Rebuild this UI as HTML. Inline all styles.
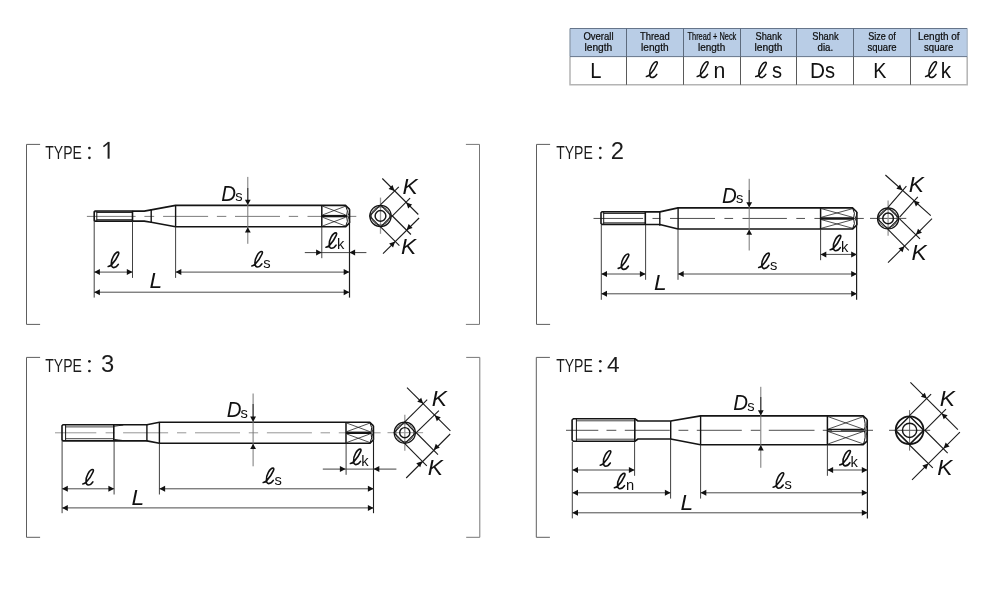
<!DOCTYPE html>
<html><head><meta charset="utf-8"><title>Tap dimensions</title>
<style>html,body{margin:0;padding:0;background:#fff}body{width:1000px;height:600px;overflow:hidden;position:relative}svg{position:absolute;left:0;top:0;display:block;will-change:transform;transform:translateZ(0)}text{font-family:"Liberation Sans",sans-serif}</style></head><body>
<svg width="1000" height="600" viewBox="0 0 1000 600">
<rect width="1000" height="600" fill="#fff"/>
<g id="table">
<rect x="570" y="28.5" width="397.2" height="28.1" fill="#b9cde6"/>
<path d="M570,56.6 V84.8 H967.2 V56.6" fill="none" stroke="#b4b4b4" stroke-width="1.5"/>
<line x1="570" y1="28.5" x2="570" y2="56.6" stroke="#8896a6" stroke-width="1.2"/>
<line x1="967.2" y1="28.5" x2="967.2" y2="56.6" stroke="#a9b6c6" stroke-width="1.2"/>
<line x1="570" y1="28.5" x2="967.2" y2="28.5" stroke="#66758a" stroke-width="1"/>
<line x1="570" y1="56.6" x2="967.2" y2="56.6" stroke="#66758a" stroke-width="1"/>
<line x1="626.5" y1="28.5" x2="626.5" y2="56.6" stroke="#5d6b7e" stroke-width="1"/>
<line x1="626.5" y1="56.6" x2="626.5" y2="84.8" stroke="#5a5a5a" stroke-width="1"/>
<line x1="683.5" y1="28.5" x2="683.5" y2="56.6" stroke="#5d6b7e" stroke-width="1"/>
<line x1="683.5" y1="56.6" x2="683.5" y2="84.8" stroke="#5a5a5a" stroke-width="1"/>
<line x1="740.5" y1="28.5" x2="740.5" y2="56.6" stroke="#5d6b7e" stroke-width="1"/>
<line x1="740.5" y1="56.6" x2="740.5" y2="84.8" stroke="#5a5a5a" stroke-width="1"/>
<line x1="796.5" y1="28.5" x2="796.5" y2="56.6" stroke="#5d6b7e" stroke-width="1"/>
<line x1="796.5" y1="56.6" x2="796.5" y2="84.8" stroke="#5a5a5a" stroke-width="1"/>
<line x1="853.5" y1="28.5" x2="853.5" y2="56.6" stroke="#5d6b7e" stroke-width="1"/>
<line x1="853.5" y1="56.6" x2="853.5" y2="84.8" stroke="#5a5a5a" stroke-width="1"/>
<line x1="910.5" y1="28.5" x2="910.5" y2="56.6" stroke="#5d6b7e" stroke-width="1"/>
<line x1="910.5" y1="56.6" x2="910.5" y2="84.8" stroke="#5a5a5a" stroke-width="1"/>
<text x="583.4" y="39.6" font-size="10.6" fill="#0c0c0c" stroke="#0c0c0c" stroke-width="0.22" textLength="30.2" lengthAdjust="spacingAndGlyphs">Overall</text>
<text x="584.5" y="50.8" font-size="10.6" fill="#0c0c0c" stroke="#0c0c0c" stroke-width="0.22" textLength="27.8" lengthAdjust="spacingAndGlyphs">length</text>
<text x="640" y="39.6" font-size="10.6" fill="#0c0c0c" stroke="#0c0c0c" stroke-width="0.22" textLength="29.8" lengthAdjust="spacingAndGlyphs">Thread</text>
<text x="641.1" y="50.8" font-size="10.6" fill="#0c0c0c" stroke="#0c0c0c" stroke-width="0.22" textLength="27.6" lengthAdjust="spacingAndGlyphs">length</text>
<text x="687.5" y="39.6" font-size="10.6" fill="#0c0c0c" stroke="#0c0c0c" stroke-width="0.22" textLength="48.8" lengthAdjust="spacingAndGlyphs">Thread + Neck</text>
<text x="698" y="50.8" font-size="10.6" fill="#0c0c0c" stroke="#0c0c0c" stroke-width="0.22" textLength="27.2" lengthAdjust="spacingAndGlyphs">length</text>
<text x="755.5" y="39.6" font-size="10.6" fill="#0c0c0c" stroke="#0c0c0c" stroke-width="0.22" textLength="26.3" lengthAdjust="spacingAndGlyphs">Shank</text>
<text x="754.5" y="50.8" font-size="10.6" fill="#0c0c0c" stroke="#0c0c0c" stroke-width="0.22" textLength="28" lengthAdjust="spacingAndGlyphs">length</text>
<text x="812.2" y="39.6" font-size="10.6" fill="#0c0c0c" stroke="#0c0c0c" stroke-width="0.22" textLength="26.4" lengthAdjust="spacingAndGlyphs">Shank</text>
<text x="817.5" y="50.8" font-size="10.6" fill="#0c0c0c" stroke="#0c0c0c" stroke-width="0.22" textLength="15.6" lengthAdjust="spacingAndGlyphs">dia.</text>
<text x="868.2" y="39.6" font-size="10.6" fill="#0c0c0c" stroke="#0c0c0c" stroke-width="0.22" textLength="27.6" lengthAdjust="spacingAndGlyphs">Size of</text>
<text x="867.5" y="50.8" font-size="10.6" fill="#0c0c0c" stroke="#0c0c0c" stroke-width="0.22" textLength="29.1" lengthAdjust="spacingAndGlyphs">square</text>
<text x="918" y="39.6" font-size="10.6" fill="#0c0c0c" stroke="#0c0c0c" stroke-width="0.22" textLength="41.6" lengthAdjust="spacingAndGlyphs">Length of</text>
<text x="924.1" y="50.8" font-size="10.6" fill="#0c0c0c" stroke="#0c0c0c" stroke-width="0.22" textLength="29.2" lengthAdjust="spacingAndGlyphs">square</text>
<text transform="translate(590.15,77.8) scale(0.9,1)" font-size="22.4" fill="#111">L</text>
<path transform="translate(646.4,77.6) scale(1.06)" d="M0,-1 C1.5,-1.2 2.6,-2 3.6,-3.1 C6,-5.6 8.6,-9.6 9.9,-12.6 C10.6,-14.1 10.4,-15 9.4,-15 C8.2,-15 6.4,-13.4 5,-10.9 C3.6,-8.4 2.8,-5.4 3.1,-3 C3.3,-1 4.1,0 5.3,0 C7,0 8.6,-1.2 9.8,-3.1" fill="none" stroke="#111" stroke-width="1.42" stroke-linecap="round" stroke-linejoin="round"/>
<path transform="translate(697.2,77.6) scale(1.06)" d="M0,-1 C1.5,-1.2 2.6,-2 3.6,-3.1 C6,-5.6 8.6,-9.6 9.9,-12.6 C10.6,-14.1 10.4,-15 9.4,-15 C8.2,-15 6.4,-13.4 5,-10.9 C3.6,-8.4 2.8,-5.4 3.1,-3 C3.3,-1 4.1,0 5.3,0 C7,0 8.6,-1.2 9.8,-3.1" fill="none" stroke="#111" stroke-width="1.42" stroke-linecap="round" stroke-linejoin="round"/>
<text transform="translate(713.59,77.8) scale(0.95,1)" font-size="22.4" fill="#111">n</text>
<path transform="translate(755.7,77.6) scale(1.03)" d="M0,-1 C1.5,-1.2 2.6,-2 3.6,-3.1 C6,-5.6 8.6,-9.6 9.9,-12.6 C10.6,-14.1 10.4,-15 9.4,-15 C8.2,-15 6.4,-13.4 5,-10.9 C3.6,-8.4 2.8,-5.4 3.1,-3 C3.3,-1 4.1,0 5.3,0 C7,0 8.6,-1.2 9.8,-3.1" fill="none" stroke="#111" stroke-width="1.46" stroke-linecap="round" stroke-linejoin="round"/>
<text transform="translate(772.04,77.8) scale(0.9,1)" font-size="22.4" fill="#111">s</text>
<text transform="translate(809.89,77.8) scale(0.93,1)" font-size="22.4" fill="#111">D</text>
<text transform="translate(825.04,77.8) scale(0.9,1)" font-size="22.4" fill="#111">s</text>
<text transform="translate(873.18,77.8) scale(0.88,1)" font-size="22.4" fill="#111">K</text>
<path transform="translate(925.6,77.6) scale(1.06)" d="M0,-1 C1.5,-1.2 2.6,-2 3.6,-3.1 C6,-5.6 8.6,-9.6 9.9,-12.6 C10.6,-14.1 10.4,-15 9.4,-15 C8.2,-15 6.4,-13.4 5,-10.9 C3.6,-8.4 2.8,-5.4 3.1,-3 C3.3,-1 4.1,0 5.3,0 C7,0 8.6,-1.2 9.8,-3.1" fill="none" stroke="#111" stroke-width="1.42" stroke-linecap="round" stroke-linejoin="round"/>
<text transform="translate(940.81,77.8) scale(0.92,1)" font-size="22.4" fill="#111">k</text>
</g>
<path d="M40.1,144.4 H26.5 V324.4 H40.1" fill="none" stroke="#5e5e5e" stroke-width="1"/>
<path d="M465.9,144.4 H479.5 V324.4 H465.9" fill="none" stroke="#777" stroke-width="1"/>
<path d="M550.1,144.4 H536.5 V324.4 H550.1" fill="none" stroke="#5e5e5e" stroke-width="1"/>
<path d="M40.1,357.4 H26.5 V537.3 H40.1" fill="none" stroke="#5e5e5e" stroke-width="1"/>
<path d="M466.2,357.4 H479.8 V537.3 H466.2" fill="none" stroke="#777" stroke-width="1"/>
<path d="M549.9,357.4 H536.3 V537.3 H549.9" fill="none" stroke="#5e5e5e" stroke-width="1"/>
<text transform="translate(45.29,158.7) scale(0.77,1)" font-size="18.2" fill="#1c1c1c">TYPE</text>
<circle cx="89.4" cy="148.1" r="1.35" fill="#1c1c1c"/>
<circle cx="89.4" cy="157.8" r="1.35" fill="#1c1c1c"/>
<path d="M103.4,146.7 L108.1,142.8" fill="none" stroke="#1c1c1c" stroke-width="1.5"/>
<path d="M108.6,141.9 V158.7" fill="none" stroke="#1c1c1c" stroke-width="2.0"/>
<text transform="translate(556.19,158.7) scale(0.77,1)" font-size="18.2" fill="#1c1c1c">TYPE</text>
<circle cx="600.3" cy="148.1" r="1.35" fill="#1c1c1c"/>
<circle cx="600.3" cy="157.8" r="1.35" fill="#1c1c1c"/>
<text x="610.7" y="158.7" font-size="23.8" fill="#1c1c1c">2</text>
<text transform="translate(45.29,371.9) scale(0.77,1)" font-size="18.2" fill="#1c1c1c">TYPE</text>
<circle cx="89.4" cy="361.3" r="1.35" fill="#1c1c1c"/>
<circle cx="89.4" cy="371" r="1.35" fill="#1c1c1c"/>
<text x="100.99" y="371.9" font-size="23.8" fill="#1c1c1c">3</text>
<text transform="translate(556.19,371.9) scale(0.77,1)" font-size="18.2" fill="#1c1c1c">TYPE</text>
<circle cx="600.3" cy="361.3" r="1.35" fill="#1c1c1c"/>
<circle cx="600.3" cy="371" r="1.35" fill="#1c1c1c"/>
<text x="606.88" y="371.9" font-size="22.6" fill="#1c1c1c">4</text>
<g id="type1">
<line x1="86.9" y1="216.4" x2="135.6" y2="216.4" stroke="#6e6e6e" stroke-width="0.9"/>
<line x1="144.4" y1="216.4" x2="154.2" y2="216.4" stroke="#6e6e6e" stroke-width="0.9"/>
<line x1="163.1" y1="216.4" x2="208.1" y2="216.4" stroke="#6e6e6e" stroke-width="0.9"/>
<line x1="216.9" y1="216.4" x2="226.3" y2="216.4" stroke="#6e6e6e" stroke-width="0.9"/>
<line x1="235" y1="216.4" x2="280" y2="216.4" stroke="#6e6e6e" stroke-width="0.9"/>
<line x1="288.8" y1="216.4" x2="298.1" y2="216.4" stroke="#6e6e6e" stroke-width="0.9"/>
<line x1="307.5" y1="216.4" x2="356.3" y2="216.4" stroke="#6e6e6e" stroke-width="0.9"/>
<path d="M94.2,211.8 L95,211 L132.5,211 L132.5,221.2 L95,221.2 L94.2,220.4 Z" fill="none" stroke="#141414" stroke-width="1.6" stroke-linejoin="round"/>
<line x1="96.8" y1="211" x2="96.8" y2="221.2" stroke="#141414" stroke-width="1"/>
<line x1="96.8" y1="212.5" x2="132.5" y2="212.5" stroke="#141414" stroke-width="0.9"/>
<line x1="96.8" y1="219.7" x2="132.5" y2="219.7" stroke="#141414" stroke-width="0.9"/>
<rect x="95" y="211" width="37.5" height="1.5" fill="#222" opacity="0.55"/>
<rect x="95" y="219.7" width="37.5" height="1.5" fill="#222" opacity="0.55"/>
<path d="M132.5,211 L132.5,211.1 L144.2,211.1 L151.2,209.9 L175.6,205.4 L345.5,205.4 L349.6,209.3" fill="none" stroke="#141414" stroke-width="1.6" stroke-linejoin="round"/>
<path d="M132.5,221.2 L132.5,221.1 L144.2,221.1 L151.2,222.3 L175.6,226.8 L345.5,226.8 L349.6,222.9" fill="none" stroke="#141414" stroke-width="1.6" stroke-linejoin="round"/>
<line x1="151.2" y1="209.3" x2="151.2" y2="222.9" stroke="#141414" stroke-width="1.4"/>
<line x1="175.6" y1="205.4" x2="175.6" y2="226.8" stroke="#141414" stroke-width="1.4"/>
<line x1="321.8" y1="205.4" x2="321.8" y2="226.8" stroke="#141414" stroke-width="1.5"/>
<line x1="349.6" y1="209.3" x2="349.6" y2="222.9" stroke="#141414" stroke-width="1.5"/>
<line x1="321.8" y1="216.1" x2="347" y2="216.1" stroke="#141414" stroke-width="2.4"/>
<path d="M345.5,205.4 Q348.7,211.28 346.7,215.5" fill="none" stroke="#141414" stroke-width="1"/>
<path d="M349.6,209.3 Q349.4,213.38 348,215.7" fill="none" stroke="#141414" stroke-width="0.9"/>
<path d="M345.5,226.8 Q348.7,220.91 346.7,216.7" fill="none" stroke="#141414" stroke-width="1"/>
<path d="M349.6,222.9 Q349.4,218.82 348,216.5" fill="none" stroke="#141414" stroke-width="0.9"/>
<line x1="322.6" y1="214.9" x2="345.5" y2="206.2" stroke="#141414" stroke-width="0.75"/>
<line x1="322.6" y1="206.2" x2="345.5" y2="214.9" stroke="#141414" stroke-width="0.75"/>
<line x1="322.6" y1="217.3" x2="345.5" y2="226" stroke="#141414" stroke-width="0.75"/>
<line x1="322.6" y1="226" x2="345.5" y2="217.3" stroke="#141414" stroke-width="0.75"/>
<line x1="94.2" y1="221" x2="94.2" y2="297.6" stroke="#2b2b2b" stroke-width="0.9"/>
<line x1="132.5" y1="221" x2="132.5" y2="277.9" stroke="#2b2b2b" stroke-width="0.9"/>
<line x1="175.6" y1="226.5" x2="175.6" y2="277.9" stroke="#2b2b2b" stroke-width="0.9"/>
<line x1="321.8" y1="226.5" x2="321.8" y2="258.2" stroke="#2b2b2b" stroke-width="0.9"/>
<line x1="349.5" y1="221" x2="349.5" y2="297.6" stroke="#1e1e1e" stroke-width="1.2"/>
<line x1="94.2" y1="272.1" x2="132.5" y2="272.1" stroke="#4a4a4a" stroke-width="1"/>
<polygon points="94.2,272.1 99.9,269.1 99.9,275.1" fill="#111"/>
<polygon points="132.5,272.1 126.8,275.1 126.8,269.1" fill="#111"/>
<line x1="175.6" y1="272.1" x2="349.4" y2="272.1" stroke="#4a4a4a" stroke-width="1"/>
<polygon points="175.6,272.1 181.3,269.1 181.3,275.1" fill="#111"/>
<polygon points="349.4,272.1 343.7,275.1 343.7,269.1" fill="#111"/>
<line x1="94.2" y1="292.2" x2="349.4" y2="292.2" stroke="#4a4a4a" stroke-width="1"/>
<polygon points="94.2,292.2 99.9,289.2 99.9,295.2" fill="#111"/>
<polygon points="349.4,292.2 343.7,295.2 343.7,289.2" fill="#111"/>
<line x1="321.8" y1="252.6" x2="349.4" y2="252.6" stroke="#4a4a4a" stroke-width="1"/>
<line x1="304.8" y1="252.6" x2="321.8" y2="252.6" stroke="#2b2b2b" stroke-width="0.9"/>
<line x1="349.4" y1="252.6" x2="366.4" y2="252.6" stroke="#2b2b2b" stroke-width="0.9"/>
<polygon points="321.8,252.6 316.1,255.6 316.1,249.6" fill="#111"/>
<polygon points="349.4,252.6 355.1,249.6 355.1,255.6" fill="#111"/>
<line x1="247.8" y1="176.9" x2="247.8" y2="243.8" stroke="#777" stroke-width="1"/>
<line x1="247.8" y1="188" x2="247.8" y2="201.4" stroke="#2b2b2b" stroke-width="1"/>
<polygon points="247.8,205 244.9,199.7 250.7,199.7" fill="#111"/>
<polygon points="247.8,227.2 250.7,232.5 244.9,232.5" fill="#111"/>
<path transform="translate(108.2,267.6) scale(1.03)" d="M0,-1 C1.5,-1.2 2.6,-2 3.6,-3.1 C6,-5.6 8.6,-9.6 9.9,-12.6 C10.6,-14.1 10.4,-15 9.4,-15 C8.2,-15 6.4,-13.4 5,-10.9 C3.6,-8.4 2.8,-5.4 3.1,-3 C3.3,-1 4.1,0 5.3,0 C7,0 8.6,-1.2 9.8,-3.1" fill="none" stroke="#111" stroke-width="1.55" stroke-linecap="round" stroke-linejoin="round"/>
<text x="149.5" y="288.2" font-size="22.7" font-style="italic" fill="#111">L</text>
<path transform="translate(251.8,267) scale(1.03)" d="M0,-1 C1.5,-1.2 2.6,-2 3.6,-3.1 C6,-5.6 8.6,-9.6 9.9,-12.6 C10.6,-14.1 10.4,-15 9.4,-15 C8.2,-15 6.4,-13.4 5,-10.9 C3.6,-8.4 2.8,-5.4 3.1,-3 C3.3,-1 4.1,0 5.3,0 C7,0 8.6,-1.2 9.8,-3.1" fill="none" stroke="#111" stroke-width="1.55" stroke-linecap="round" stroke-linejoin="round"/>
<text x="263.19" y="267.9" font-size="14.7" fill="#111">s</text>
<path transform="translate(326,248.3) scale(1.03)" d="M0,-1 C1.5,-1.2 2.6,-2 3.6,-3.1 C6,-5.6 8.6,-9.6 9.9,-12.6 C10.6,-14.1 10.4,-15 9.4,-15 C8.2,-15 6.4,-13.4 5,-10.9 C3.6,-8.4 2.8,-5.4 3.1,-3 C3.3,-1 4.1,0 5.3,0 C7,0 8.6,-1.2 9.8,-3.1" fill="none" stroke="#111" stroke-width="1.55" stroke-linecap="round" stroke-linejoin="round"/>
<text x="336.91" y="249.2" font-size="14.7" fill="#111">k</text>
<text transform="translate(221.37,200.6) scale(0.9,1)" font-size="22.7" font-style="italic" fill="#111">D</text>
<text x="235.19" y="201" font-size="14.7" fill="#111">s</text>
<line x1="380.5" y1="197.6" x2="380.5" y2="233.8" stroke="#999" stroke-width="1.3"/>
<circle cx="380.5" cy="215.95" r="10.68" fill="none" stroke="#141414" stroke-width="1.25"/>
<circle cx="380.5" cy="215.95" r="9.15" fill="none" stroke="#141414" stroke-width="0.7"/>
<rect x="372.72" y="208.17" width="15.56" height="15.56" rx="0.6" transform="rotate(45 380.5 215.95)" fill="none" stroke="#141414" stroke-width="1.1"/>
<circle cx="380.5" cy="215.95" r="5.38" fill="none" stroke="#141414" stroke-width="1.45"/>
<line x1="380.6" y1="204.7" x2="398.8" y2="186.9" stroke="#1a1a1a" stroke-width="1.1"/>
<line x1="391.9" y1="216.3" x2="410.1" y2="198.1" stroke="#1a1a1a" stroke-width="1.1"/>
<line x1="382.3" y1="178.5" x2="418.3" y2="214.5" stroke="#1a1a1a" stroke-width="1.1"/>
<polygon points="394.5,190.9 388.56,188.92 392.52,184.96" fill="#111"/>
<polygon points="406.2,202.6 412.14,204.58 408.18,208.54" fill="#111"/>
<text x="402.6" y="193.6" font-size="22.7" font-style="italic" fill="#111">K</text>
<line x1="380.6" y1="226.9" x2="399.4" y2="245.6" stroke="#1a1a1a" stroke-width="1.1"/>
<line x1="391.9" y1="215.5" x2="410.9" y2="234.5" stroke="#1a1a1a" stroke-width="1.1"/>
<line x1="383" y1="253.6" x2="419.1" y2="218" stroke="#1a1a1a" stroke-width="1.1"/>
<polygon points="395.1,241.5 393.08,247.43 389.15,243.44" fill="#111"/>
<polygon points="406.6,229.9 408.62,223.97 412.55,227.96" fill="#111"/>
<text x="400.9" y="254.2" font-size="22.7" font-style="italic" fill="#111">K</text>
</g>
<g id="type2">
<line x1="593.5" y1="218.45" x2="643.1" y2="218.45" stroke="#3c3c3c" stroke-width="0.9"/>
<line x1="652.5" y1="218.45" x2="660.4" y2="218.45" stroke="#3c3c3c" stroke-width="0.9"/>
<line x1="670" y1="218.45" x2="715" y2="218.45" stroke="#3c3c3c" stroke-width="0.9"/>
<line x1="724.4" y1="218.45" x2="733.1" y2="218.45" stroke="#3c3c3c" stroke-width="0.9"/>
<line x1="742.5" y1="218.45" x2="786.9" y2="218.45" stroke="#3c3c3c" stroke-width="0.9"/>
<line x1="796.3" y1="218.45" x2="805" y2="218.45" stroke="#3c3c3c" stroke-width="0.9"/>
<line x1="814.4" y1="218.45" x2="863.8" y2="218.45" stroke="#3c3c3c" stroke-width="0.9"/>
<path d="M601,212.75 L602,211.75 L645.3,211.75 L645.3,224.55 L602,224.55 L601,223.55 Z" fill="none" stroke="#141414" stroke-width="1.6" stroke-linejoin="round"/>
<line x1="603.7" y1="211.75" x2="603.7" y2="224.55" stroke="#141414" stroke-width="1"/>
<line x1="603.7" y1="213.45" x2="645.3" y2="213.45" stroke="#141414" stroke-width="0.9"/>
<line x1="603.7" y1="222.85" x2="645.3" y2="222.85" stroke="#141414" stroke-width="0.9"/>
<rect x="602" y="211.75" width="43.3" height="1.7" fill="#222" opacity="0.28"/>
<rect x="602" y="222.85" width="43.3" height="1.7" fill="#222" opacity="0.28"/>
<path d="M645.3,211.75 L645.9,211.85 L659.8,211.85 L678.1,207.85 L852.5,207.85 L856.9,212.03" fill="none" stroke="#141414" stroke-width="1.6" stroke-linejoin="round"/>
<path d="M645.3,224.55 L645.9,224.45 L659.8,224.45 L678.1,229.05 L852.5,229.05 L856.9,224.87" fill="none" stroke="#141414" stroke-width="1.6" stroke-linejoin="round"/>
<line x1="659.8" y1="211.25" x2="659.8" y2="225.65" stroke="#141414" stroke-width="1.4"/>
<line x1="678.1" y1="207.85" x2="678.1" y2="229.05" stroke="#141414" stroke-width="1.4"/>
<line x1="820.6" y1="207.85" x2="820.6" y2="229.05" stroke="#141414" stroke-width="1.5"/>
<line x1="856.9" y1="212.03" x2="856.9" y2="224.87" stroke="#141414" stroke-width="1.5"/>
<line x1="820.6" y1="218.45" x2="854" y2="218.45" stroke="#141414" stroke-width="2.4"/>
<path d="M852.5,207.85 Q855.7,213.68 853.7,217.85" fill="none" stroke="#141414" stroke-width="1"/>
<path d="M856.9,212.03 Q856.7,215.88 855.3,218.05" fill="none" stroke="#141414" stroke-width="0.9"/>
<path d="M852.5,229.05 Q855.7,223.22 853.7,219.05" fill="none" stroke="#141414" stroke-width="1"/>
<path d="M856.9,224.87 Q856.7,221.02 855.3,218.85" fill="none" stroke="#141414" stroke-width="0.9"/>
<line x1="821.4" y1="217.25" x2="852.5" y2="208.65" stroke="#141414" stroke-width="0.75"/>
<line x1="821.4" y1="208.65" x2="852.5" y2="217.25" stroke="#141414" stroke-width="0.75"/>
<line x1="821.4" y1="219.65" x2="852.5" y2="228.25" stroke="#141414" stroke-width="0.75"/>
<line x1="821.4" y1="228.25" x2="852.5" y2="219.65" stroke="#141414" stroke-width="0.75"/>
<line x1="601.3" y1="225" x2="601.3" y2="299.8" stroke="#2b2b2b" stroke-width="0.9"/>
<line x1="645.6" y1="225" x2="645.6" y2="279.8" stroke="#2b2b2b" stroke-width="0.9"/>
<line x1="678" y1="229" x2="678" y2="279.8" stroke="#2b2b2b" stroke-width="0.9"/>
<line x1="820.6" y1="229" x2="820.6" y2="260.2" stroke="#2b2b2b" stroke-width="0.9"/>
<line x1="856.6" y1="224" x2="856.6" y2="299.8" stroke="#1e1e1e" stroke-width="1.2"/>
<line x1="601.3" y1="274" x2="645.6" y2="274" stroke="#4a4a4a" stroke-width="1"/>
<polygon points="601.3,274 607,271 607,277" fill="#111"/>
<polygon points="645.6,274 639.9,277 639.9,271" fill="#111"/>
<line x1="678" y1="274" x2="856.9" y2="274" stroke="#4a4a4a" stroke-width="1"/>
<polygon points="678,274 683.7,271 683.7,277" fill="#111"/>
<polygon points="856.9,274 851.2,277 851.2,271" fill="#111"/>
<line x1="601.3" y1="293.8" x2="856.9" y2="293.8" stroke="#4a4a4a" stroke-width="1"/>
<polygon points="601.3,293.8 607,290.8 607,296.8" fill="#111"/>
<polygon points="856.9,293.8 851.2,296.8 851.2,290.8" fill="#111"/>
<line x1="820.6" y1="254.4" x2="856.9" y2="254.4" stroke="#4a4a4a" stroke-width="1"/>
<polygon points="820.6,254.4 826.3,251.4 826.3,257.4" fill="#111"/>
<polygon points="856.9,254.4 851.2,257.4 851.2,251.4" fill="#111"/>
<line x1="749.2" y1="178.8" x2="749.2" y2="250.5" stroke="#777" stroke-width="1"/>
<line x1="749.2" y1="190" x2="749.2" y2="203.85" stroke="#2b2b2b" stroke-width="1"/>
<polygon points="749.2,207.45 746.3,202.15 752.1,202.15" fill="#111"/>
<polygon points="749.2,229.45 752.1,234.75 746.3,234.75" fill="#111"/>
<path transform="translate(618.2,269.4) scale(1.03)" d="M0,-1 C1.5,-1.2 2.6,-2 3.6,-3.1 C6,-5.6 8.6,-9.6 9.9,-12.6 C10.6,-14.1 10.4,-15 9.4,-15 C8.2,-15 6.4,-13.4 5,-10.9 C3.6,-8.4 2.8,-5.4 3.1,-3 C3.3,-1 4.1,0 5.3,0 C7,0 8.6,-1.2 9.8,-3.1" fill="none" stroke="#111" stroke-width="1.55" stroke-linecap="round" stroke-linejoin="round"/>
<text x="653.9" y="289.8" font-size="22.7" font-style="italic" fill="#111">L</text>
<path transform="translate(758.7,268.6) scale(1.03)" d="M0,-1 C1.5,-1.2 2.6,-2 3.6,-3.1 C6,-5.6 8.6,-9.6 9.9,-12.6 C10.6,-14.1 10.4,-15 9.4,-15 C8.2,-15 6.4,-13.4 5,-10.9 C3.6,-8.4 2.8,-5.4 3.1,-3 C3.3,-1 4.1,0 5.3,0 C7,0 8.6,-1.2 9.8,-3.1" fill="none" stroke="#111" stroke-width="1.55" stroke-linecap="round" stroke-linejoin="round"/>
<text x="770.09" y="269.5" font-size="14.7" fill="#111">s</text>
<path transform="translate(830.2,250.8) scale(1.03)" d="M0,-1 C1.5,-1.2 2.6,-2 3.6,-3.1 C6,-5.6 8.6,-9.6 9.9,-12.6 C10.6,-14.1 10.4,-15 9.4,-15 C8.2,-15 6.4,-13.4 5,-10.9 C3.6,-8.4 2.8,-5.4 3.1,-3 C3.3,-1 4.1,0 5.3,0 C7,0 8.6,-1.2 9.8,-3.1" fill="none" stroke="#111" stroke-width="1.55" stroke-linecap="round" stroke-linejoin="round"/>
<text x="841.01" y="251.6" font-size="14.7" fill="#111">k</text>
<text transform="translate(721.97,202.9) scale(0.9,1)" font-size="22.7" font-style="italic" fill="#111">D</text>
<text x="735.99" y="203.3" font-size="14.7" fill="#111">s</text>
<line x1="870" y1="218.4" x2="906.3" y2="218.4" stroke="#3c3c3c" stroke-width="0.9"/>
<line x1="888.1" y1="200.6" x2="888.1" y2="235.8" stroke="#999" stroke-width="1.3"/>
<circle cx="888.1" cy="218.4" r="10.57" fill="none" stroke="#141414" stroke-width="1.25"/>
<circle cx="888.1" cy="218.4" r="9.05" fill="none" stroke="#141414" stroke-width="0.7"/>
<rect x="880.39" y="210.69" width="15.41" height="15.41" rx="0.6" transform="rotate(45 888.1 218.4)" fill="none" stroke="#141414" stroke-width="1.1"/>
<circle cx="888.1" cy="218.4" r="5.33" fill="none" stroke="#141414" stroke-width="1.45"/>
<line x1="888.2" y1="207.2" x2="906.4" y2="186.2" stroke="#1a1a1a" stroke-width="1.1"/>
<line x1="899.6" y1="217.2" x2="917.8" y2="196.8" stroke="#1a1a1a" stroke-width="1.1"/>
<line x1="885.4" y1="175" x2="930.8" y2="215.6" stroke="#1a1a1a" stroke-width="1.1"/>
<polygon points="902.4,190.3 896.36,188.65 900.09,184.48" fill="#111"/>
<polygon points="913.6,200.6 919.64,202.25 915.91,206.42" fill="#111"/>
<text x="908.7" y="191.6" font-size="22.7" font-style="italic" fill="#111">K</text>
<line x1="888.2" y1="229.6" x2="908.8" y2="250.4" stroke="#1a1a1a" stroke-width="1.1"/>
<line x1="899.6" y1="218.8" x2="920" y2="238.8" stroke="#1a1a1a" stroke-width="1.1"/>
<line x1="888" y1="262.7" x2="932" y2="218.7" stroke="#1a1a1a" stroke-width="1.1"/>
<polygon points="904.5,246.2 902.52,252.14 898.56,248.18" fill="#111"/>
<polygon points="916,234.7 917.98,228.76 921.94,232.72" fill="#111"/>
<text x="911.5" y="259.7" font-size="22.7" font-style="italic" fill="#111">K</text>
</g>
<g id="type3">
<line x1="55" y1="432.8" x2="96.3" y2="432.8" stroke="#8a8a8a" stroke-width="0.9"/>
<line x1="105.6" y1="432.8" x2="114.4" y2="432.8" stroke="#8a8a8a" stroke-width="0.9"/>
<line x1="123.1" y1="432.8" x2="168.1" y2="432.8" stroke="#8a8a8a" stroke-width="0.9"/>
<line x1="177" y1="432.8" x2="186.3" y2="432.8" stroke="#8a8a8a" stroke-width="0.9"/>
<line x1="195" y1="432.8" x2="240" y2="432.8" stroke="#8a8a8a" stroke-width="0.9"/>
<line x1="248.8" y1="432.8" x2="258.1" y2="432.8" stroke="#8a8a8a" stroke-width="0.9"/>
<line x1="266.9" y1="432.8" x2="311.9" y2="432.8" stroke="#8a8a8a" stroke-width="0.9"/>
<line x1="320.6" y1="432.8" x2="330" y2="432.8" stroke="#8a8a8a" stroke-width="0.9"/>
<line x1="338.8" y1="432.8" x2="380.6" y2="432.8" stroke="#8a8a8a" stroke-width="0.9"/>
<path d="M62,425.7 L63,424.7 L113.8,424.7 L113.8,440.9 L63,440.9 L62,439.9 Z" fill="none" stroke="#141414" stroke-width="1.6" stroke-linejoin="round"/>
<line x1="65.6" y1="424.7" x2="65.6" y2="440.9" stroke="#141414" stroke-width="1"/>
<line x1="65.6" y1="426.9" x2="113.8" y2="426.9" stroke="#141414" stroke-width="0.8"/>
<line x1="65.6" y1="438.7" x2="113.8" y2="438.7" stroke="#141414" stroke-width="0.8"/>
<path d="M113.8,426.3 Q117.8,425.7 123.3,425" fill="none" stroke="#141414" stroke-width="0.9"/>
<path d="M113.8,439.3 Q117.8,439.9 123.3,440.6" fill="none" stroke="#141414" stroke-width="0.9"/>
<path d="M113.8,424.7 L113.8,424.7 L146.9,424.7 L159.4,422.3 L369.8,422.3 L373.5,425.81" fill="none" stroke="#141414" stroke-width="1.6" stroke-linejoin="round"/>
<path d="M113.8,440.9 L113.8,440.9 L146.9,440.9 L159.4,443.3 L369.8,443.3 L373.5,439.79" fill="none" stroke="#141414" stroke-width="1.6" stroke-linejoin="round"/>
<line x1="146.9" y1="424.3" x2="146.9" y2="441.3" stroke="#141414" stroke-width="1.4"/>
<line x1="159.4" y1="422.3" x2="159.4" y2="443.3" stroke="#141414" stroke-width="1.4"/>
<line x1="346" y1="422.3" x2="346" y2="443.3" stroke="#141414" stroke-width="1.5"/>
<line x1="373.5" y1="425.81" x2="373.5" y2="439.79" stroke="#141414" stroke-width="1.5"/>
<line x1="346" y1="432.8" x2="371.3" y2="432.8" stroke="#141414" stroke-width="2.4"/>
<path d="M369.8,422.3 Q373,428.07 371,432.2" fill="none" stroke="#141414" stroke-width="1"/>
<path d="M373.5,425.81 Q373.3,430.01 371.9,432.4" fill="none" stroke="#141414" stroke-width="0.9"/>
<path d="M369.8,443.3 Q373,437.53 371,433.4" fill="none" stroke="#141414" stroke-width="1"/>
<path d="M373.5,439.79 Q373.3,435.59 371.9,433.2" fill="none" stroke="#141414" stroke-width="0.9"/>
<line x1="346.8" y1="431.6" x2="369.8" y2="423.1" stroke="#141414" stroke-width="0.75"/>
<line x1="346.8" y1="423.1" x2="369.8" y2="431.6" stroke="#141414" stroke-width="0.75"/>
<line x1="346.8" y1="434" x2="369.8" y2="442.5" stroke="#141414" stroke-width="0.75"/>
<line x1="346.8" y1="442.5" x2="369.8" y2="434" stroke="#141414" stroke-width="0.75"/>
<line x1="62.1" y1="441" x2="62.1" y2="513.2" stroke="#2b2b2b" stroke-width="0.9"/>
<line x1="114.1" y1="441" x2="114.1" y2="494.5" stroke="#2b2b2b" stroke-width="0.9"/>
<line x1="159.4" y1="443.5" x2="159.4" y2="494.5" stroke="#2b2b2b" stroke-width="0.9"/>
<line x1="346.1" y1="443.5" x2="346.1" y2="474.8" stroke="#2b2b2b" stroke-width="0.9"/>
<line x1="373.5" y1="438" x2="373.5" y2="513.2" stroke="#1e1e1e" stroke-width="1.1"/>
<line x1="62.1" y1="488.8" x2="114.1" y2="488.8" stroke="#4a4a4a" stroke-width="1"/>
<polygon points="62.1,488.8 67.8,485.8 67.8,491.8" fill="#111"/>
<polygon points="114.1,488.8 108.4,491.8 108.4,485.8" fill="#111"/>
<line x1="159.4" y1="488.8" x2="373.6" y2="488.8" stroke="#4a4a4a" stroke-width="1"/>
<polygon points="159.4,488.8 165.1,485.8 165.1,491.8" fill="#111"/>
<polygon points="373.6,488.8 367.9,491.8 367.9,485.8" fill="#111"/>
<line x1="62.1" y1="507.9" x2="373.6" y2="507.9" stroke="#4a4a4a" stroke-width="1"/>
<polygon points="62.1,507.9 67.8,504.9 67.8,510.9" fill="#111"/>
<polygon points="373.6,507.9 367.9,510.9 367.9,504.9" fill="#111"/>
<line x1="345.6" y1="469.1" x2="373.6" y2="469.1" stroke="#4a4a4a" stroke-width="1"/>
<line x1="322.8" y1="469.1" x2="345.6" y2="469.1" stroke="#2b2b2b" stroke-width="0.9"/>
<line x1="373.6" y1="469.1" x2="396.4" y2="469.1" stroke="#2b2b2b" stroke-width="0.9"/>
<polygon points="345.6,469.1 339.9,472.1 339.9,466.1" fill="#111"/>
<polygon points="373.6,469.1 379.3,466.1 379.3,472.1" fill="#111"/>
<line x1="253.1" y1="393.5" x2="253.1" y2="466.3" stroke="#777" stroke-width="1"/>
<line x1="253.1" y1="404" x2="253.1" y2="418.3" stroke="#2b2b2b" stroke-width="1"/>
<polygon points="253.1,421.9 250.2,416.6 256,416.6" fill="#111"/>
<polygon points="253.1,443.7 256,449 250.2,449" fill="#111"/>
<path transform="translate(82.8,485) scale(1.03)" d="M0,-1 C1.5,-1.2 2.6,-2 3.6,-3.1 C6,-5.6 8.6,-9.6 9.9,-12.6 C10.6,-14.1 10.4,-15 9.4,-15 C8.2,-15 6.4,-13.4 5,-10.9 C3.6,-8.4 2.8,-5.4 3.1,-3 C3.3,-1 4.1,0 5.3,0 C7,0 8.6,-1.2 9.8,-3.1" fill="none" stroke="#111" stroke-width="1.55" stroke-linecap="round" stroke-linejoin="round"/>
<text x="131.5" y="504.8" font-size="22.7" font-style="italic" fill="#111">L</text>
<path transform="translate(263.2,483.6) scale(1.03)" d="M0,-1 C1.5,-1.2 2.6,-2 3.6,-3.1 C6,-5.6 8.6,-9.6 9.9,-12.6 C10.6,-14.1 10.4,-15 9.4,-15 C8.2,-15 6.4,-13.4 5,-10.9 C3.6,-8.4 2.8,-5.4 3.1,-3 C3.3,-1 4.1,0 5.3,0 C7,0 8.6,-1.2 9.8,-3.1" fill="none" stroke="#111" stroke-width="1.55" stroke-linecap="round" stroke-linejoin="round"/>
<text x="274.59" y="484.5" font-size="14.7" fill="#111">s</text>
<path transform="translate(350.4,464.6) scale(1.03)" d="M0,-1 C1.5,-1.2 2.6,-2 3.6,-3.1 C6,-5.6 8.6,-9.6 9.9,-12.6 C10.6,-14.1 10.4,-15 9.4,-15 C8.2,-15 6.4,-13.4 5,-10.9 C3.6,-8.4 2.8,-5.4 3.1,-3 C3.3,-1 4.1,0 5.3,0 C7,0 8.6,-1.2 9.8,-3.1" fill="none" stroke="#111" stroke-width="1.55" stroke-linecap="round" stroke-linejoin="round"/>
<text x="361.21" y="465.5" font-size="14.7" fill="#111">k</text>
<text transform="translate(226.67,416.6) scale(0.9,1)" font-size="22.7" font-style="italic" fill="#111">D</text>
<text x="240.59" y="417.6" font-size="14.7" fill="#111">s</text>
<line x1="387.5" y1="432.7" x2="423.1" y2="432.7" stroke="#8a8a8a" stroke-width="0.9"/>
<line x1="404.8" y1="414.8" x2="404.8" y2="450.8" stroke="#999" stroke-width="1.3"/>
<circle cx="404.8" cy="432.7" r="10.57" fill="none" stroke="#141414" stroke-width="1.25"/>
<circle cx="404.8" cy="432.7" r="9.05" fill="none" stroke="#141414" stroke-width="0.7"/>
<rect x="397.09" y="424.99" width="15.41" height="15.41" rx="0.6" transform="rotate(45 404.8 432.7)" fill="none" stroke="#141414" stroke-width="1.1"/>
<circle cx="404.8" cy="432.7" r="5.08" fill="none" stroke="#141414" stroke-width="1.45"/>
<line x1="404.8" y1="421.8" x2="427.2" y2="399.6" stroke="#1a1a1a" stroke-width="1.1"/>
<line x1="416" y1="432.9" x2="438.9" y2="410.7" stroke="#1a1a1a" stroke-width="1.1"/>
<line x1="407" y1="387.6" x2="450.4" y2="430.8" stroke="#1a1a1a" stroke-width="1.1"/>
<polygon points="423.2,403.6 417.26,401.63 421.21,397.66" fill="#111"/>
<polygon points="434.8,415.2 440.74,417.17 436.79,421.14" fill="#111"/>
<text x="431.7" y="405.8" font-size="22.7" font-style="italic" fill="#111">K</text>
<line x1="404.8" y1="443.7" x2="426.8" y2="465.8" stroke="#1a1a1a" stroke-width="1.1"/>
<line x1="416" y1="432.5" x2="438" y2="454.6" stroke="#1a1a1a" stroke-width="1.1"/>
<line x1="406.2" y1="478" x2="450.2" y2="434" stroke="#1a1a1a" stroke-width="1.1"/>
<polygon points="422.2,461.2 420.22,467.14 416.26,463.18" fill="#111"/>
<polygon points="433.8,449.8 435.78,443.86 439.74,447.82" fill="#111"/>
<text x="427.7" y="475" font-size="22.7" font-style="italic" fill="#111">K</text>
</g>
<g id="type4">
<line x1="566" y1="430.3" x2="598.3" y2="430.3" stroke="#3c3c3c" stroke-width="0.9"/>
<line x1="606.5" y1="430.3" x2="616.3" y2="430.3" stroke="#3c3c3c" stroke-width="0.9"/>
<line x1="624.8" y1="430.3" x2="669.8" y2="430.3" stroke="#3c3c3c" stroke-width="0.9"/>
<line x1="678.5" y1="430.3" x2="688.3" y2="430.3" stroke="#3c3c3c" stroke-width="0.9"/>
<line x1="696.8" y1="430.3" x2="741.8" y2="430.3" stroke="#3c3c3c" stroke-width="0.9"/>
<line x1="750.8" y1="430.3" x2="760.5" y2="430.3" stroke="#3c3c3c" stroke-width="0.9"/>
<line x1="768.8" y1="430.3" x2="814.5" y2="430.3" stroke="#3c3c3c" stroke-width="0.9"/>
<line x1="822.8" y1="430.3" x2="832" y2="430.3" stroke="#3c3c3c" stroke-width="0.9"/>
<line x1="840.8" y1="430.3" x2="873" y2="430.3" stroke="#3c3c3c" stroke-width="0.9"/>
<path d="M572.1,420.05 L573.4,418.75 L634.8,418.75 L634.8,441.25 L573.4,441.25 L572.1,439.95 Z" fill="none" stroke="#141414" stroke-width="1.6" stroke-linejoin="round"/>
<line x1="576.4" y1="418.75" x2="576.4" y2="441.25" stroke="#141414" stroke-width="1"/>
<line x1="576.4" y1="420.8" x2="634.8" y2="420.8" stroke="#141414" stroke-width="0.8"/>
<line x1="576.4" y1="439.2" x2="634.8" y2="439.2" stroke="#141414" stroke-width="0.8"/>
<path d="M634.8,418.75 L638,421 L670.7,421 L700.6,415.9 L863.2,415.9 L867.3,419.79" fill="none" stroke="#141414" stroke-width="1.6" stroke-linejoin="round"/>
<path d="M634.8,441.25 L638,439 L670.7,439 L700.6,444.7 L863.2,444.7 L867.3,440.81" fill="none" stroke="#141414" stroke-width="1.6" stroke-linejoin="round"/>
<line x1="670.7" y1="421.1" x2="670.7" y2="439.5" stroke="#141414" stroke-width="1.4"/>
<line x1="700.6" y1="415.9" x2="700.6" y2="444.7" stroke="#141414" stroke-width="1.4"/>
<line x1="827.4" y1="415.9" x2="827.4" y2="444.7" stroke="#141414" stroke-width="1.5"/>
<line x1="867.3" y1="419.79" x2="867.3" y2="440.81" stroke="#141414" stroke-width="1.5"/>
<line x1="827.4" y1="429.35" x2="864.2" y2="429.35" stroke="#141414" stroke-width="1.15"/>
<line x1="827.4" y1="431.25" x2="864.2" y2="431.25" stroke="#141414" stroke-width="1.15"/>
<path d="M863.2,415.9 Q866.4,423.82 864.4,429.7" fill="none" stroke="#141414" stroke-width="1"/>
<path d="M867.3,419.79 Q867.1,426.1 865.7,429.9" fill="none" stroke="#141414" stroke-width="0.9"/>
<path d="M863.2,444.7 Q866.4,436.78 864.4,430.9" fill="none" stroke="#141414" stroke-width="1"/>
<path d="M867.3,440.81 Q867.1,434.5 865.7,430.7" fill="none" stroke="#141414" stroke-width="0.9"/>
<line x1="828.2" y1="429.1" x2="863.2" y2="416.7" stroke="#141414" stroke-width="0.75"/>
<line x1="828.2" y1="416.7" x2="863.2" y2="429.1" stroke="#141414" stroke-width="0.75"/>
<line x1="828.2" y1="431.5" x2="863.2" y2="443.9" stroke="#141414" stroke-width="0.75"/>
<line x1="828.2" y1="443.9" x2="863.2" y2="431.5" stroke="#141414" stroke-width="0.75"/>
<line x1="572.3" y1="442" x2="572.3" y2="518.4" stroke="#2b2b2b" stroke-width="0.9"/>
<line x1="634.6" y1="442" x2="634.6" y2="475.8" stroke="#2b2b2b" stroke-width="0.9"/>
<line x1="670.6" y1="439" x2="670.6" y2="498.6" stroke="#2b2b2b" stroke-width="0.9"/>
<line x1="700.6" y1="444.7" x2="700.6" y2="498.6" stroke="#2b2b2b" stroke-width="0.9"/>
<line x1="827.4" y1="444.7" x2="827.4" y2="475.8" stroke="#2b2b2b" stroke-width="0.9"/>
<line x1="867.4" y1="437" x2="867.4" y2="518.4" stroke="#1e1e1e" stroke-width="1.2"/>
<line x1="572.3" y1="470" x2="634.6" y2="470" stroke="#4a4a4a" stroke-width="1"/>
<polygon points="572.3,470 578,467 578,473" fill="#111"/>
<polygon points="634.6,470 628.9,473 628.9,467" fill="#111"/>
<line x1="572.3" y1="492.8" x2="670.6" y2="492.8" stroke="#4a4a4a" stroke-width="1"/>
<polygon points="572.3,492.8 578,489.8 578,495.8" fill="#111"/>
<polygon points="670.6,492.8 664.9,495.8 664.9,489.8" fill="#111"/>
<line x1="700.6" y1="492.8" x2="867.5" y2="492.8" stroke="#4a4a4a" stroke-width="1"/>
<polygon points="700.6,492.8 706.3,489.8 706.3,495.8" fill="#111"/>
<polygon points="867.5,492.8 861.8,495.8 861.8,489.8" fill="#111"/>
<line x1="572.3" y1="512.8" x2="867.5" y2="512.8" stroke="#4a4a4a" stroke-width="1"/>
<polygon points="572.3,512.8 578,509.8 578,515.8" fill="#111"/>
<polygon points="867.5,512.8 861.8,515.8 861.8,509.8" fill="#111"/>
<line x1="827.4" y1="470" x2="867.5" y2="470" stroke="#4a4a4a" stroke-width="1"/>
<polygon points="827.4,470 833.1,467 833.1,473" fill="#111"/>
<polygon points="867.5,470 861.8,473 861.8,467" fill="#111"/>
<line x1="760.8" y1="386.8" x2="760.8" y2="467.8" stroke="#777" stroke-width="1"/>
<line x1="760.8" y1="397" x2="760.8" y2="411.9" stroke="#2b2b2b" stroke-width="1"/>
<polygon points="760.8,415.5 757.9,410.2 763.7,410.2" fill="#111"/>
<polygon points="760.8,445.1 763.7,450.4 757.9,450.4" fill="#111"/>
<path transform="translate(600.2,466.2) scale(1.03)" d="M0,-1 C1.5,-1.2 2.6,-2 3.6,-3.1 C6,-5.6 8.6,-9.6 9.9,-12.6 C10.6,-14.1 10.4,-15 9.4,-15 C8.2,-15 6.4,-13.4 5,-10.9 C3.6,-8.4 2.8,-5.4 3.1,-3 C3.3,-1 4.1,0 5.3,0 C7,0 8.6,-1.2 9.8,-3.1" fill="none" stroke="#111" stroke-width="1.55" stroke-linecap="round" stroke-linejoin="round"/>
<path transform="translate(614.4,488.8) scale(1.03)" d="M0,-1 C1.5,-1.2 2.6,-2 3.6,-3.1 C6,-5.6 8.6,-9.6 9.9,-12.6 C10.6,-14.1 10.4,-15 9.4,-15 C8.2,-15 6.4,-13.4 5,-10.9 C3.6,-8.4 2.8,-5.4 3.1,-3 C3.3,-1 4.1,0 5.3,0 C7,0 8.6,-1.2 9.8,-3.1" fill="none" stroke="#111" stroke-width="1.55" stroke-linecap="round" stroke-linejoin="round"/>
<text x="625.92" y="489.9" font-size="14.7" fill="#111">n</text>
<text x="680.5" y="509.8" font-size="22.7" font-style="italic" fill="#111">L</text>
<path transform="translate(773.1,488.2) scale(1.03)" d="M0,-1 C1.5,-1.2 2.6,-2 3.6,-3.1 C6,-5.6 8.6,-9.6 9.9,-12.6 C10.6,-14.1 10.4,-15 9.4,-15 C8.2,-15 6.4,-13.4 5,-10.9 C3.6,-8.4 2.8,-5.4 3.1,-3 C3.3,-1 4.1,0 5.3,0 C7,0 8.6,-1.2 9.8,-3.1" fill="none" stroke="#111" stroke-width="1.55" stroke-linecap="round" stroke-linejoin="round"/>
<text x="784.49" y="489.2" font-size="14.7" fill="#111">s</text>
<path transform="translate(839.8,465.9) scale(1.03)" d="M0,-1 C1.5,-1.2 2.6,-2 3.6,-3.1 C6,-5.6 8.6,-9.6 9.9,-12.6 C10.6,-14.1 10.4,-15 9.4,-15 C8.2,-15 6.4,-13.4 5,-10.9 C3.6,-8.4 2.8,-5.4 3.1,-3 C3.3,-1 4.1,0 5.3,0 C7,0 8.6,-1.2 9.8,-3.1" fill="none" stroke="#111" stroke-width="1.55" stroke-linecap="round" stroke-linejoin="round"/>
<text x="850.61" y="466.9" font-size="14.7" fill="#111">k</text>
<text transform="translate(733.17,410.4) scale(0.9,1)" font-size="22.7" font-style="italic" fill="#111">D</text>
<text x="747.19" y="411.3" font-size="14.7" fill="#111">s</text>
<line x1="889" y1="430.3" x2="930.2" y2="430.3" stroke="#3c3c3c" stroke-width="0.9"/>
<line x1="909.6" y1="410.1" x2="909.6" y2="450.6" stroke="#555" stroke-width="0.9"/>
<circle cx="909.6" cy="430.3" r="13.9" fill="none" stroke="#141414" stroke-width="1.8"/>
<rect x="899.56" y="420.26" width="20.08" height="20.08" rx="1.2" transform="rotate(45 909.6 430.3)" fill="none" stroke="#141414" stroke-width="1.5"/>
<circle cx="909.6" cy="430.3" r="7.13" fill="none" stroke="#141414" stroke-width="1.45"/>
<line x1="909.5" y1="415.6" x2="931.1" y2="394.2" stroke="#1a1a1a" stroke-width="1.1"/>
<line x1="924.6" y1="430.6" x2="946" y2="409.2" stroke="#1a1a1a" stroke-width="1.1"/>
<line x1="910.4" y1="382.3" x2="957.9" y2="429.6" stroke="#1a1a1a" stroke-width="1.1"/>
<polygon points="926.8,398.6 920.86,396.63 924.81,392.66" fill="#111"/>
<polygon points="941.7,413.4 947.64,415.37 943.69,419.34" fill="#111"/>
<text x="939.7" y="406.2" font-size="22.7" font-style="italic" fill="#111">K</text>
<line x1="909.5" y1="445" x2="932.8" y2="467.8" stroke="#1a1a1a" stroke-width="1.1"/>
<line x1="924.6" y1="430" x2="947.7" y2="453.1" stroke="#1a1a1a" stroke-width="1.1"/>
<line x1="912" y1="479.8" x2="959.9" y2="432.2" stroke="#1a1a1a" stroke-width="1.1"/>
<polygon points="928.3,463.6 926.3,469.53 922.35,465.56" fill="#111"/>
<polygon points="943.6,448.4 945.6,442.47 949.55,446.44" fill="#111"/>
<text x="937.3" y="474.7" font-size="22.7" font-style="italic" fill="#111">K</text>
</g>
</svg></body></html>
